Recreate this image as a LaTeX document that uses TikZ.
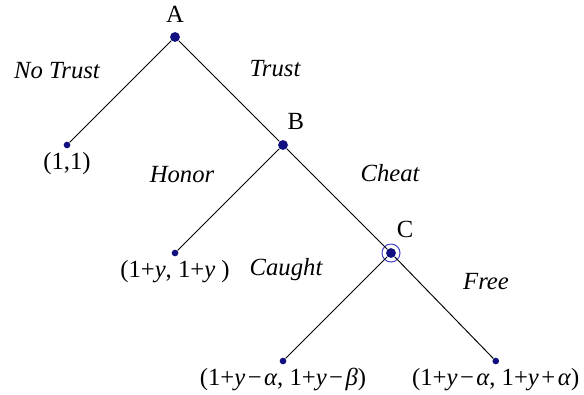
\documentclass[tikz,border=0pt]{standalone}
\usepackage{fontspec}
\setmainfont{Liberation Serif}
\usetikzlibrary{positioning}
\definecolor{darknavy}{RGB}{16,16,128}
\definecolor{ringblue}{RGB}{60,60,200}
\newcommand{\opgap}{\hspace{0.1em}}

\begin{document}
\begin{tikzpicture}[
  x=2cm, y=2cm,
  font=\fontsize{13}{15}\selectfont,
  dec/.style={circle, fill=darknavy, inner sep=0pt, minimum size=5.2pt},
  leaf/.style={circle, fill=darknavy, inner sep=0pt, minimum size=3.5pt},
  pay/.style={inner sep=1pt},
  act/.style={font=\fontsize{13}{15}\selectfont\itshape},
  edge/.style={line width=0.5pt},
]
\useasboundingbox (-1.6204,0.3426) rectangle (3.787,-3.3056);

% decision nodes
\node[dec] (a) at (0,0) {};
\node[dec] (b) at (1,-1) {};
\node[dec] (c) at (2,-2) {};
\draw[ringblue, line width=0.5pt] (c) circle (0.167cm);

% end nodes
\node[leaf] (l1) at (-1,-1) {};
\node[leaf] (l2) at (0,-2) {};
\node[leaf] (l3) at (1,-3) {};
\node[leaf] (l4) at (2.97,-3) {};

\draw[edge] (a) -- (l1); \draw[edge] (a) -- (b);
\draw[edge] (b) -- (l2); \draw[edge] (b) -- (c);
\draw[edge] (c) -- (l3); \draw[edge] (c) -- (l4);

% players
\node (na) at (0,0.213) {A};
\node (nb) at (1.12,-0.778) {B};
\node (nc) at (2.13,-1.778) {C};

% moves
\node[act] (notrust) at (-1.093,-0.315) {No Trust};
\node[act] (trust)   at (0.926,-0.296)  {Trust};
\node[act] (honor)   at (0.065,-1.269)  {Honor};
\node[act] (cheat)   at (1.991,-1.259)  {Cheat};
\node[act] (caught)  at (1.028,-2.157)  {Caught};
\node[act] (free)    at (2.88,-2.268)   {Free};

% payoffs
\node[pay, below=0.02cm of l1] (p1) {(1,1)};
\node[pay, below=0.02cm of l2] (p2) {(1+\textit{y}, 1+\textit{y} )};
\node[pay, below=0.02cm of l3] (p3) {(1+\textit{y}\opgap−\opgap\textit{α}, 1+\textit{y}\opgap−\opgap\textit{β})};
\node[pay, below=0.02cm of l4] (p4) {(1+\textit{y}\opgap−\opgap\textit{α}, 1+\textit{y}\opgap+\opgap\textit{α})};
\end{tikzpicture}
\end{document}
